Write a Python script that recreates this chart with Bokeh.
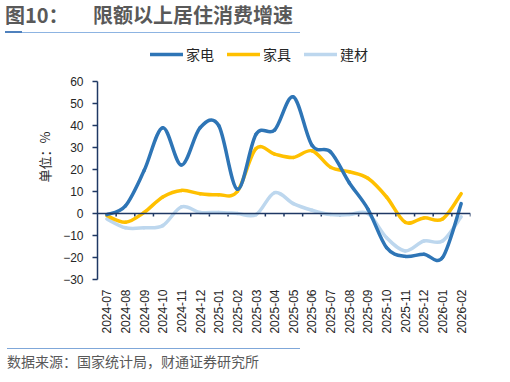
from bokeh.plotting import figure
from bokeh.layouts import column
from bokeh.models import (Range1d, FixedTicker, Legend, LegendItem, Div,
                          Span, ColumnDataSource)
from bokeh.embed import file_html
from bokeh.resources import INLINE

months = ["2024-07", "2024-08", "2024-09", "2024-10", "2024-11", "2024-12",
          "2025-01", "2025-02", "2025-03", "2025-04", "2025-05", "2025-06",
          "2025-07", "2025-08", "2025-09", "2025-10", "2025-11", "2025-12",
          "2026-01", "2026-02"]
appliances = [-0.5, 3.5, 19.5, 39, 22, 39, 40, 11, 36, 38, 53, 31, 28, 14, 2,
              -15.5, -19.5, -18.5, -20, 4.5]
furniture = [-1, -4, 0.5, 7.5, 10.5, 9, 8.5, 10, 29.5, 27, 25.5, 28.5, 21, 19,
             16, 7.5, -4, -2, -2.5, 9]
materials = [-2.5, -6.5, -6.5, -5.5, 3, 0.5, 0.5, 0, -0.5, 9.5, 4.5, 1.5,
             -0.5, -0.5, 0, -11, -17, -12.5, -12.5, -1.5]
series_names = ["家电", "家具", "建材"]
series_colors = ["#2E75B6", "#FFC000", "#BDD7EE"]
y_ticks = [-30, -20, -10, 0, 10, 20, 30, 40, 50, 60]
title_num = "图10："
title_text = "限额以上居住消费增速"
source_text = "数据来源：国家统计局，财通证券研究所"

CJK = "Noto Sans CJK SC"
LAT = "Liberation Sans"
AXIS_COLOR = "#1F3864"
TEXT_COLOR = "#262626"
W = 500

# ---------------- header ----------------
TOP_H = 34
title_div = Div(width=W, height=TOP_H, styles={"margin": "0", "padding": "0"}, text=(
    f'<div style="position:relative;width:{W}px;height:{TOP_H}px;'
    f"font-family:'{CJK}',sans-serif;\">"
    f'<span style="position:absolute;left:5px;top:1px;line-height:27px;font-size:20px;'
    f'font-weight:bold;color:#595959;white-space:nowrap;">{title_num}</span>'
    f'<span style="position:absolute;left:93px;top:1px;line-height:27px;font-size:20px;'
    f'font-weight:bold;color:#595959;white-space:nowrap;">{title_text}</span>'
    f'<div style="position:absolute;left:5px;top:32px;width:295px;height:1px;'
    f'background:#8DB4E2;"></div>'
    f'<div style="position:absolute;left:5px;top:31px;width:17px;height:2px;'
    f'background:#4F81BD;"></div>'
    f'</div>'))

# ---------------- main chart ----------------
# frame: 245 px tall; the plotting band (-30..60) occupies its lowest 198 px,
# the space above holds the legend (axis line limited by bounds)
FRAME_H = 245
PLOT_H = 198
y_top = y_ticks[-1] + (y_ticks[-1] - y_ticks[0]) * (FRAME_H - PLOT_H) / PLOT_H
n = len(months)
p = figure(width=W, height=FRAME_H + 66, output_backend="svg", toolbar_location=None,
           x_range=Range1d(-0.5, n - 0.5), y_range=Range1d(y_ticks[0], y_top),
           min_border_left=97, min_border_right=30, min_border_top=0,
           min_border_bottom=66)
p.outline_line_color = None
p.grid.visible = False

xa = p.xaxis[0]
xa.ticker = FixedTicker(ticks=list(range(n)))
xa.major_label_overrides = {i: m for i, m in enumerate(months)}
xa.major_label_orientation = 3.14159265 / 2
xa.axis_line_color = None
xa.major_tick_line_color = None
xa.minor_tick_line_color = None
xa.major_tick_out = 0
xa.major_tick_in = 0
xa.major_label_standoff = 10
xa.major_label_text_font = LAT
xa.major_label_text_font_size = "12px"
xa.major_label_text_color = TEXT_COLOR

ya = p.yaxis[0]
ya.ticker = FixedTicker(ticks=y_ticks)
ya.bounds = (y_ticks[0], y_ticks[-1])
ya.axis_line_color = AXIS_COLOR
ya.axis_line_width = 1.5
ya.major_tick_line_color = AXIS_COLOR
ya.major_tick_line_width = 1.5
ya.major_tick_out = 5
ya.major_tick_in = 0
ya.minor_tick_line_color = None
ya.major_label_standoff = 9
ya.major_label_text_font = LAT
ya.major_label_text_font_size = "12px"
ya.major_label_text_color = TEXT_COLOR
ya.axis_label = "单位：%"
ya.axis_label_text_font = CJK
ya.axis_label_text_font_size = "13px"
ya.axis_label_text_font_style = "normal"
ya.axis_label_text_color = TEXT_COLOR
ya.axis_label_standoff = 6

p.add_layout(Span(location=0, dimension="width", line_color=AXIS_COLOR, line_width=1.5))
bounds = [i + 0.5 for i in range(n)]
p.segment(x0=bounds, y0=[0] * n, x1=bounds, y1=[-1.4] * n,
          line_color=AXIS_COLOR, line_width=1.5)


def smooth_segments(vals):
    m = len(vals)
    xs = list(range(m))
    d = dict(x0=[], y0=[], x1=[], y1=[], cx0=[], cy0=[], cx1=[], cy1=[])
    for i in range(m - 1):
        ip = max(i - 1, 0)
        inn = min(i + 2, m - 1)
        d["x0"].append(xs[i]); d["y0"].append(vals[i])
        d["x1"].append(xs[i + 1]); d["y1"].append(vals[i + 1])
        d["cx0"].append(xs[i] + (xs[i + 1] - xs[ip]) / 6)
        d["cy0"].append(vals[i] + (vals[i + 1] - vals[ip]) / 6)
        d["cx1"].append(xs[i + 1] - (xs[inn] - xs[i]) / 6)
        d["cy1"].append(vals[i + 1] - (vals[inn] - vals[i]) / 6)
    return ColumnDataSource(d)


all_vals = [appliances, furniture, materials]
renderers = {}
for k in [2, 1, 0]:
    src = smooth_segments(all_vals[k])
    renderers[k] = p.bezier(x0="x0", y0="y0", x1="x1", y1="y1", cx0="cx0", cy0="cy0",
                            cx1="cx1", cy1="cy1", source=src, line_color=series_colors[k],
                            line_width=3.5, line_cap="round")

legend = Legend(items=[LegendItem(label=series_names[k], renderers=[renderers[k]])
                       for k in range(3)],
                location=(53, 215), orientation="horizontal",
                glyph_width=33, glyph_height=14, label_height=14, label_width=10,
                label_standoff=3, spacing=13,
                padding=0, margin=0, border_line_alpha=0, background_fill_alpha=0,
                label_text_font=CJK, label_text_font_size="14px",
                label_text_color=TEXT_COLOR, label_text_baseline="middle")
p.add_layout(legend)

# ---------------- footer ----------------
BOT_H = 29
foot_div = Div(width=W, height=BOT_H, styles={"margin": "0", "padding": "0"}, text=(
    f'<div style="position:relative;width:{W}px;height:{BOT_H}px;'
    f"font-family:'{CJK}',sans-serif;\">"
    f'<div style="position:absolute;left:7px;top:3px;width:293px;height:1px;'
    f'background:#7FA7D9;"></div>'
    f'<span style="position:absolute;left:7px;top:6px;line-height:20px;font-size:14px;'
    f'color:#595959;white-space:nowrap;">{source_text}</span>'
    f'</div>'))

layout = column(title_div, p, foot_div, spacing=0)
open("out.html", "w").write(file_html(layout, INLINE))
